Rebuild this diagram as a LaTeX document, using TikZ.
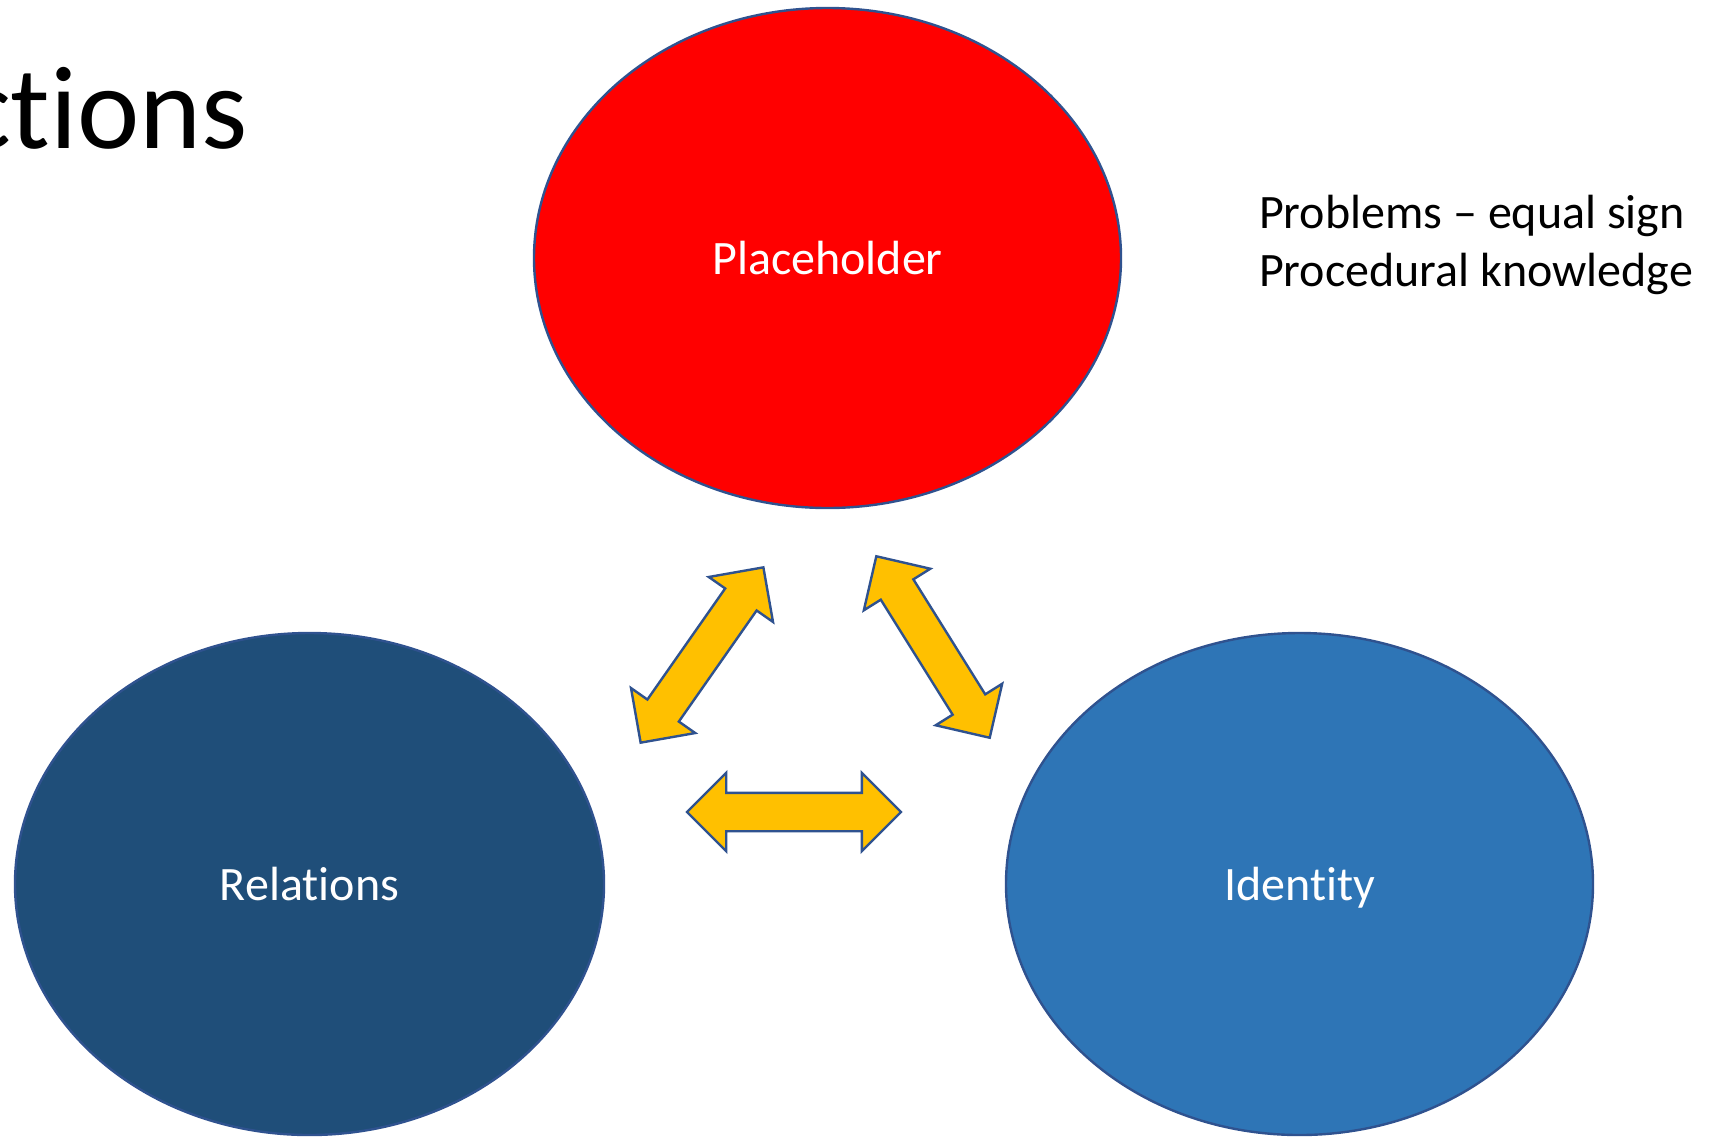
\documentclass[tikz,border=0pt]{standalone}
\usepackage{fontspec}
\setmainfont{Carlito}[Ligatures=NoCommon]
\usetikzlibrary{shapes,positioning}
\definecolor{rimblue}{HTML}{2F528F}
\definecolor{placered}{HTML}{FF0000}
\definecolor{reldark}{HTML}{1F4E79}
\definecolor{identblue}{HTML}{2E75B6}
\definecolor{linkgold}{HTML}{FFC000}
\tikzset{blob/.style={ellipse, draw=rimblue, line width=1.2pt, inner sep=0pt,
    text=white, font=\fontsize{24}{29}\selectfont, text height=16pt, text depth=0pt}}

\begin{document}
\begin{tikzpicture}[x=0.5pt, y=-0.5pt,
    link/.style={double arrow, draw=rimblue, fill=linkgold, line width=1.2pt,
      inner sep=9pt, double arrow head extend=10pt, minimum height=107pt}]
    \useasboundingbox (0,0) rectangle (1711,1136);

    \node[anchor=base east, font=\fontsize{59}{70}\selectfont] (title) at (255,148) {ctions};

    \node[blob, fill=placered, minimum width=293.5pt, minimum height=250pt] (holder) at (827.5,258) {Placeholder};
    \node[blob, fill=reldark, minimum width=294.5pt, minimum height=251pt] (rel) at (309.5,884) {Relations};
    \node[blob, fill=identblue, minimum width=293.5pt, minimum height=251pt] (ident) at (1299.5,884) {Identity};

    \node[link, rotate=55] (relhold) at (702,655) {};
    \node[link, rotate=-58] (holdid) at (933,647) {};
    \node[link] (relid) at (794,812) {};

    \node[anchor=west, align=left, font=\fontsize{24}{29}\selectfont] (notes) at (1252,245)
      {Problems – equal sign\\Procedural knowledge};
  \end{tikzpicture}
\end{document}
